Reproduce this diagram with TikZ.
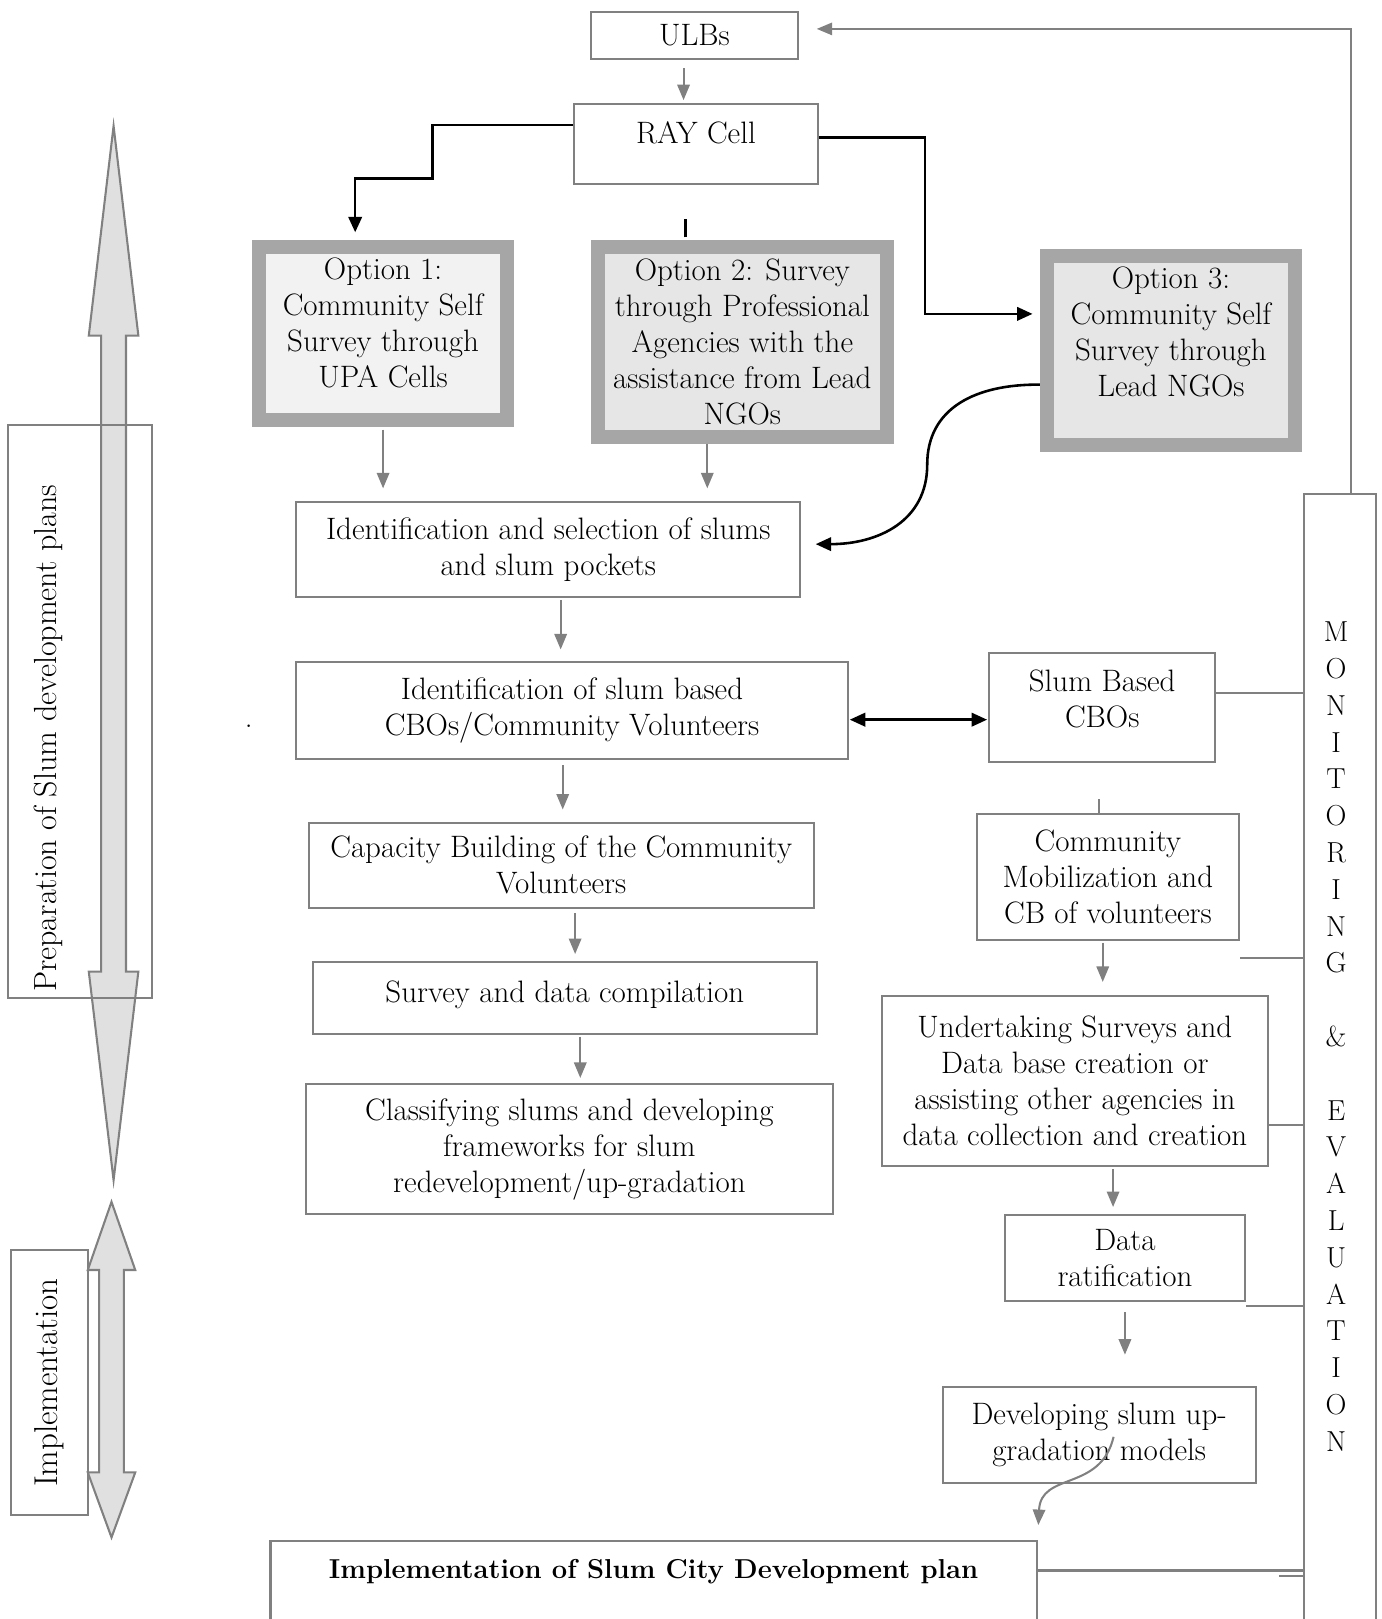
\documentclass[tikz,border=0pt]{standalone}
\usepackage{tikz}
\usetikzlibrary{arrows.meta,calc}
\definecolor{linegray}{HTML}{808080}
\definecolor{optgray}{HTML}{A6A6A6}
\definecolor{optfillA}{HTML}{F2F2F2}
\definecolor{optfillB}{HTML}{E6E6E6}
\definecolor{bandgray}{HTML}{E0E0E0}
\newcommand{\botpad}[1]{\rule[-#1pt]{0pt}{#1pt}}

\tikzset{
	box/.style={draw=linegray,line width=2pt,inner sep=0pt,align=center},
	optbox/.style={draw=optgray,line width=14pt,inner sep=0pt,align=center},
	garrow/.style={draw=linegray,line width=2pt,-{Triangle[length=15pt,width=12pt]}},
	barrow/.style={draw=black,line width=2.5pt,-{Triangle[length=15pt,width=13pt]}},
	gline/.style={draw=linegray,line width=2pt},
	band/.style={draw=linegray,line width=2pt,fill=bandgray}
}

\begin{document}
\begin{tikzpicture}[x=1pt,y=-1pt,font=\fontsize{30}{34.8}\selectfont]
	\useasboundingbox (0,0) rectangle (1338,1568);
	\draw[band] (110,122) -- (134,325) -- (122,325) -- (122,941) -- (134,941) -- (110,1143) -- (86,941) -- (98,941) -- (98,325) -- (86,325) -- cycle;
	\node[box,minimum width=139,minimum height=555] (prep) at (77.5,689.5) {};
	\node[rotate=90,font=\fontsize{31}{36}\selectfont] (preptext) at (47,715) {Preparation of Slum development plans};
	\node[box,rotate=90,minimum width=256,minimum height=74,font=\fontsize{32}{36}\selectfont] (impside) at (48,1339) {Implementation};
	\draw[band] (108,1164) -- (131,1230) -- (120,1230) -- (120,1426) -- (131,1426) -- (108,1489) -- (85,1426) -- (96,1426) -- (96,1230) -- (85,1230) -- cycle;

	\node[box,minimum width=201,minimum height=45] (ulbs) at (672.5,34.5) {ULBs};
	\node[box,minimum width=236,minimum height=77] (ray) at (674,139.5) {RAY Cell\botpad{23}};
	\node[optbox,fill=optfillA,minimum width=240,minimum height=168] (opt1) at (371,323) {Option 1:\\Community Self\\Survey through\\UPA Cells\botpad{21}};
	\node[optbox,fill=optfillB,minimum width=280,minimum height=184] (opt2) at (719,331) {Option 2: Survey\\through Professional\\Agencies with the\\assistance from Lead\\NGOs};
	\node[optbox,fill=optfillB,minimum width=240,minimum height=183] (opt3) at (1134,339.5) {Option 3:\\Community Self\\Survey through\\Lead NGOs\botpad{36}};
	\node[box,minimum width=488,minimum height=92] (ident) at (531,532) {Identification and selection of slums\\and slum pockets};
	\node[box,minimum width=534,minimum height=94] (idcbo) at (554,688) {Identification of slum based\\CBOs/Community Volunteers};
	\node[box,minimum width=219,minimum height=106] (slumcbo) at (1067.5,685) {Slum Based\\CBOs\botpad{17}};
	\node[box,minimum width=489,minimum height=82] (capac) at (543.5,838) {Capacity Building of the Community\\Volunteers};
	\node[box,minimum width=488,minimum height=69] (survey) at (547,966.5) {Survey and data compilation\botpad{13}};
	\node[box,minimum width=511,minimum height=126] (classify) at (551.5,1113) {Classifying slums and developing\\frameworks for slum\\redevelopment/up-gradation};
	\node[box,minimum width=254,minimum height=122] (commob) at (1073,849) {Community\\Mobilization and\\CB of volunteers};
	\node[box,minimum width=374,minimum height=164] (undert) at (1041,1047) {Undertaking Surveys and\\Data base creation or\\assisting other agencies in\\data collection and creation};
	\node[box,minimum width=233,minimum height=83] (datar) at (1089.5,1218.5) {Data\\ratification};
	\node[box,minimum width=303,minimum height=93] (devel) at (1064.5,1389.5) {Developing slum up-\\gradation models};
	\node[box,anchor=north,minimum width=742,text height=37pt,text depth=100pt,font=\fontsize{26.5}{31}\selectfont\bfseries] (impl) at (633,1491) {Implementation of Slum City Development plan};
	\node[box,anchor=north,minimum width=70,minimum height=1150] (monitor) at (1298,477) {};
	\node[align=center,font=\fontsize{28}{35.64}\selectfont] (montext) at (1294,1004) {M\\O\\N\\I\\T\\O\\R\\I\\N\\G\\~\\\&\\~\\E\\V\\A\\L\\U\\A\\T\\I\\O\\N};
	\node (dot) at (241,703) {.};

	\draw[garrow,shorten <=8pt,shorten >=3pt] ([xshift=-10.5pt]ulbs.south) -- ([xshift=-10.5pt]ulbs.south |- ray.north);
	\draw[barrow,shorten >=7pt] ([yshift=18.5pt]ray.west) -| (419,173) -| ([xshift=-27pt]opt1.north);
	\draw[barrow,shorten >=7pt] ([yshift=6.5pt]ray.east) -| (896,304) -- ([yshift=35.5pt]opt3.west);
	\draw[black,line width=2.5pt] ([xshift=-55pt,yshift=2pt]opt2.north) -- ++(0,-18);
	\draw[barrow,shorten >=14pt] ([yshift=-33pt]opt3.west) .. controls (945,372) and (898,395) .. (898,450) .. controls (898,505) and (850,527) .. ([yshift=5pt]ident.east);
	\draw[garrow,shorten <=2pt,shorten >=12pt] (opt1.south) -- (opt1.south |- ident.north);
	\draw[garrow,shorten >=12pt] ([xshift=-34pt]opt2.south) -- ([xshift=-34pt]opt2.south |- ident.north);
	\draw[garrow,shorten <=2pt,shorten >=11pt] ([xshift=12pt]ident.south) -- ([xshift=12pt]ident.south |- idcbo.north);
	\draw[garrow,shorten <=5pt,shorten >=12pt] ([xshift=-9pt]idcbo.south) -- ([xshift=-9pt]idcbo.south |- capac.north);
	\draw[garrow,shorten <=4pt,shorten >=7pt] ([xshift=13.5pt]capac.south) -- ([xshift=13.5pt]capac.south |- survey.north);
	\draw[garrow,shorten <=2pt,shorten >=5pt] ([xshift=15pt]survey.south) -- ([xshift=15pt]survey.south |- classify.north);
	\draw[barrow,{Triangle[length=15pt,width=13pt]}-{Triangle[length=15pt,width=13pt]},shorten <=1pt,shorten >=1pt] ([yshift=-9pt]idcbo.east) -- ([yshift=-9pt]idcbo.east -| slumcbo.west);
	\draw[gline] ([xshift=-9pt]commob.north) -- ++(0,-13);
	\draw[garrow,shorten <=2pt,shorten >=13pt] ([xshift=-5pt]commob.south) -- ([xshift=-5pt]commob.south |- undert.north);
	\draw[garrow,shorten <=2pt,shorten >=7pt] ([xshift=37pt]undert.south) -- ([xshift=37pt]undert.south |- datar.north);
	\draw[garrow,shorten <=10pt,shorten >=30pt] (datar.south) -- (datar.south |- devel.north);
	\draw[garrow,shorten >=14pt] ([xshift=14pt,yshift=-2pt]devel.center) .. controls (1066,1445) and (1008,1425) .. (impl.north east);

	\draw[gline] ([yshift=14pt]slumcbo.east) -- ([yshift=14pt]slumcbo.east -| monitor.west);
	\draw[gline] ([yshift=-17pt]commob.south east) -- ([yshift=-17pt]commob.south east -| monitor.west);
	\draw[gline] ([yshift=-43pt]undert.east) -- ([yshift=-43pt]undert.east -| monitor.west);
	\draw[gline] ([yshift=-4pt]datar.south east) -- ([yshift=-4pt]datar.south east -| monitor.west);
	\draw[gline] ([yshift=-30pt]impl.north east) -- ([yshift=-30pt]impl.north east -| monitor.west);
	\draw[gline] ([yshift=-35pt]impl.north east -| monitor.west) -- ++(-23,0);
	\draw[garrow,shorten >=17pt] ([xshift=10pt]monitor.north) |- ([yshift=6.5pt]ulbs.east);
\end{tikzpicture}
\end{document}
